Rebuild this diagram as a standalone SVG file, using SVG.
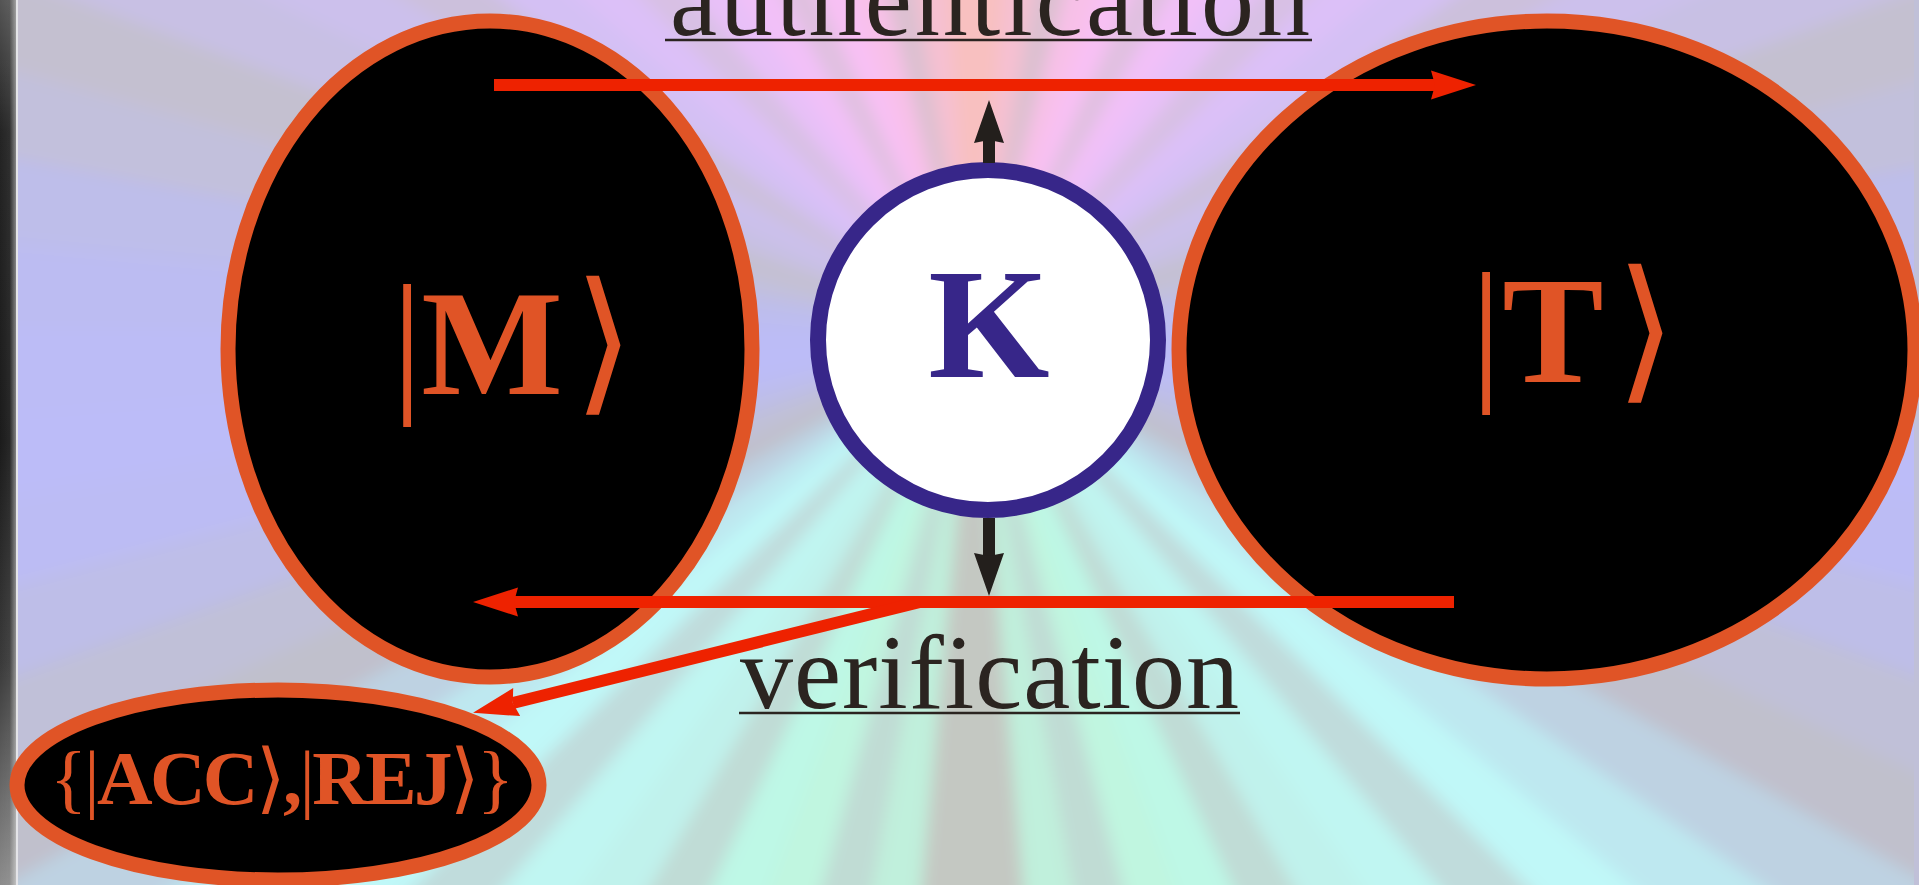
<svg xmlns="http://www.w3.org/2000/svg" xmlns:xlink="http://www.w3.org/1999/xlink" width="1919" height="885" viewBox="0 0 1919 885">
  <style>
    .state { fill: #000; stroke: #e05426; stroke-width: 15; }
    .key { fill: #fff; stroke: #372689; stroke-width: 16; }
    .lbl { font-family: "Liberation Serif", "DejaVu Serif", "DejaVu Sans", serif; font-weight: bold; fill: #e05426; }
    .thin { font-weight: normal; }
    .cap { font-family: "Liberation Serif", "DejaVu Serif", serif; font-size: 106px; fill: #2b2420; }
    .uline { stroke: #2b2420; stroke-width: 2.5; }
    .red { stroke: #ee2200; stroke-width: 12; fill: none; }
    .blk { stroke: #231f1c; stroke-width: 12; fill: none; }
  </style>
  <defs>
    <!-- one 5.4 degree slice of the ray background -->
    <path id="w" d="M0 0 L-4 -2300 L217 -2290 Z"/>
    <filter id="soft" filterUnits="userSpaceOnUse" x="-990" y="-350" width="1930" height="900">
      <feGaussianBlur stdDeviation="8"/>
    </filter>
    <linearGradient id="stripV" x1="0" y1="0" x2="0" y2="1">
      <stop offset="0" stop-color="#555"/>
      <stop offset="0.15" stop-color="#242424"/>
      <stop offset="0.5" stop-color="#1b1b1b"/>
      <stop offset="0.75" stop-color="#3a3a3a"/>
      <stop offset="1" stop-color="#8c8c8c"/>
    </linearGradient>
    <linearGradient id="stripH" x1="0" y1="0" x2="1" y2="0">
      <stop offset="0" stop-color="#fff" stop-opacity="0"/>
      <stop offset="0.6" stop-color="#fff" stop-opacity="0.05"/>
      <stop offset="1" stop-color="#fff" stop-opacity="0.45"/>
    </linearGradient>
    <marker id="ah-red" markerUnits="userSpaceOnUse" markerWidth="45" markerHeight="29" refX="4" refY="14.5" orient="auto" overflow="visible">
      <path d="M0 0 L45 14.5 L0 29 L4 14.5 Z" fill="#ee2200"/>
    </marker>
    <marker id="ah-blk" markerUnits="userSpaceOnUse" markerWidth="43" markerHeight="30" refX="3" refY="15" orient="auto" overflow="visible">
      <path d="M0 0 L43 15 L0 30 L3 15 Z" fill="#231f1c"/>
    </marker>
  </defs>

  <!-- ray background -->
  <rect width="1919" height="885" fill="#c0c0d8"/>
  <g id="rays" transform="translate(974 335)" filter="url(#soft)">
    <use xlink:href="#w" transform="rotate(0)" fill="#f8c0c0"/>
    <use xlink:href="#w" transform="rotate(5)" fill="#f6c0d2"/>
    <use xlink:href="#w" transform="rotate(10)" fill="#dcc0d0"/>
    <use xlink:href="#w" transform="rotate(15)" fill="#f8c0e8"/>
    <use xlink:href="#w" transform="rotate(20)" fill="#f8c0f4"/>
    <use xlink:href="#w" transform="rotate(25)" fill="#e0c0e0"/>
    <use xlink:href="#w" transform="rotate(30)" fill="#f2c0f8"/>
    <use xlink:href="#w" transform="rotate(35)" fill="#e8c0f8"/>
    <use xlink:href="#w" transform="rotate(40)" fill="#d8c0e4"/>
    <use xlink:href="#w" transform="rotate(45)" fill="#dcc0f8"/>
    <use xlink:href="#w" transform="rotate(50)" fill="#d4c0f4"/>
    <use xlink:href="#w" transform="rotate(55)" fill="#ccc0dc"/>
    <use xlink:href="#w" transform="rotate(60)" fill="#ccc0ec"/>
    <use xlink:href="#w" transform="rotate(65)" fill="#c8c0e4"/>
    <use xlink:href="#w" transform="rotate(70)" fill="#c4c0d0"/>
    <use xlink:href="#w" transform="rotate(75)" fill="#c2c0dc"/>
    <use xlink:href="#w" transform="rotate(80)" fill="#bebeea"/>
    <use xlink:href="#w" transform="rotate(85)" fill="#bcbcf2"/>
    <use xlink:href="#w" transform="rotate(90)" fill="#bcbcf6"/>
    <use xlink:href="#w" transform="rotate(95)" fill="#bcbcf8"/>
    <use xlink:href="#w" transform="rotate(100)" fill="#bcbcf4"/>
    <use xlink:href="#w" transform="rotate(105)" fill="#bebee8"/>
    <use xlink:href="#w" transform="rotate(110)" fill="#c0c0d8"/>
    <use xlink:href="#w" transform="rotate(115)" fill="#c0c0cc"/>
    <use xlink:href="#w" transform="rotate(120)" fill="#bed2e2"/>
    <use xlink:href="#w" transform="rotate(125)" fill="#bee8f0"/>
    <use xlink:href="#w" transform="rotate(130)" fill="#c0f8f8"/>
    <use xlink:href="#w" transform="rotate(135)" fill="#c0dcdc"/>
    <use xlink:href="#w" transform="rotate(140)" fill="#c0f6f2"/>
    <use xlink:href="#w" transform="rotate(145)" fill="#c0f2ec"/>
    <use xlink:href="#w" transform="rotate(150)" fill="#c0dcd6"/>
    <use xlink:href="#w" transform="rotate(155)" fill="#bef8e6"/>
    <use xlink:href="#w" transform="rotate(160)" fill="#c0f6e0"/>
    <use xlink:href="#w" transform="rotate(165)" fill="#c0dcd4"/>
    <use xlink:href="#w" transform="rotate(170)" fill="#c0f0dc"/>
    <use xlink:href="#w" transform="rotate(175)" fill="#c4c8c2"/>
    <use xlink:href="#w" transform="rotate(-5)" fill="#f8c0c0"/>
    <use xlink:href="#w" transform="rotate(-10)" fill="#f6c0d2"/>
    <use xlink:href="#w" transform="rotate(-15)" fill="#dcc0d0"/>
    <use xlink:href="#w" transform="rotate(-20)" fill="#f8c0e8"/>
    <use xlink:href="#w" transform="rotate(-25)" fill="#f8c0f4"/>
    <use xlink:href="#w" transform="rotate(-30)" fill="#e0c0e0"/>
    <use xlink:href="#w" transform="rotate(-35)" fill="#f2c0f8"/>
    <use xlink:href="#w" transform="rotate(-40)" fill="#e8c0f8"/>
    <use xlink:href="#w" transform="rotate(-45)" fill="#d8c0e4"/>
    <use xlink:href="#w" transform="rotate(-50)" fill="#dcc0f8"/>
    <use xlink:href="#w" transform="rotate(-55)" fill="#d4c0f4"/>
    <use xlink:href="#w" transform="rotate(-60)" fill="#ccc0dc"/>
    <use xlink:href="#w" transform="rotate(-65)" fill="#ccc0ec"/>
    <use xlink:href="#w" transform="rotate(-70)" fill="#c8c0e4"/>
    <use xlink:href="#w" transform="rotate(-75)" fill="#c4c0d0"/>
    <use xlink:href="#w" transform="rotate(-80)" fill="#c2c0dc"/>
    <use xlink:href="#w" transform="rotate(-85)" fill="#bebeea"/>
    <use xlink:href="#w" transform="rotate(-90)" fill="#bcbcf2"/>
    <use xlink:href="#w" transform="rotate(-95)" fill="#bcbcf6"/>
    <use xlink:href="#w" transform="rotate(-100)" fill="#bcbcf8"/>
    <use xlink:href="#w" transform="rotate(-105)" fill="#bcbcf4"/>
    <use xlink:href="#w" transform="rotate(-110)" fill="#bebee8"/>
    <use xlink:href="#w" transform="rotate(-115)" fill="#c0c0d8"/>
    <use xlink:href="#w" transform="rotate(-120)" fill="#c0c0cc"/>
    <use xlink:href="#w" transform="rotate(-125)" fill="#bed2e2"/>
    <use xlink:href="#w" transform="rotate(-130)" fill="#bee8f0"/>
    <use xlink:href="#w" transform="rotate(-135)" fill="#c0f8f8"/>
    <use xlink:href="#w" transform="rotate(-140)" fill="#c0dcdc"/>
    <use xlink:href="#w" transform="rotate(-145)" fill="#c0f6f2"/>
    <use xlink:href="#w" transform="rotate(-150)" fill="#c0f2ec"/>
    <use xlink:href="#w" transform="rotate(-155)" fill="#c0dcd6"/>
    <use xlink:href="#w" transform="rotate(-160)" fill="#bef8e6"/>
    <use xlink:href="#w" transform="rotate(-165)" fill="#c0f6e0"/>
    <use xlink:href="#w" transform="rotate(-170)" fill="#c0dcd4"/>
    <use xlink:href="#w" transform="rotate(-175)" fill="#c0f0dc"/>
    <use xlink:href="#w" transform="rotate(-180)" fill="#c4c8c2"/>
  </g>

  <!-- dark frame strip on the left edge -->
  <rect x="0" y="0" width="16" height="885" fill="url(#stripV)"/>
  <rect x="0" y="0" width="16" height="885" fill="url(#stripH)"/>
  <rect x="16" y="0" width="2" height="885" fill="#e4e4e8"/>

  <!-- states -->
  <g id="node-M">
    <ellipse class="state" cx="490" cy="349" rx="262" ry="328"/>
    <text class="lbl" y="394" text-anchor="middle"><tspan class="thin" x="407" font-size="156">|</tspan><tspan x="492" font-size="150">M</tspan><tspan class="thin" x="604" font-size="156">⟩</tspan></text>
  </g>
  <g id="node-T">
    <ellipse class="state" cx="1547" cy="350" rx="368" ry="329"/>
    <text class="lbl" y="382" text-anchor="middle"><tspan class="thin" x="1486" font-size="156">|</tspan><tspan x="1553" font-size="152">T</tspan><tspan class="thin" x="1646" font-size="156">⟩</tspan></text>
  </g>
  <g id="node-K">
    <circle class="key" cx="988" cy="340" r="170"/>
    <text x="989" y="377" text-anchor="middle" font-family="Liberation Serif, serif" font-weight="bold" font-size="156" fill="#372689">K</text>
  </g>
  <g id="node-result">
    <ellipse class="state" cx="278" cy="785" rx="261" ry="95"/>
    <text class="lbl" x="50" y="804" font-size="77" textLength="464" lengthAdjust="spacing"><tspan class="thin">{|</tspan>ACC<tspan class="thin">⟩</tspan>,<tspan class="thin">|</tspan>REJ<tspan class="thin">⟩}</tspan></text>
  </g>

  <!-- connectors -->
  <g id="connectors">
    <line class="red" x1="494" y1="85" x2="1435" y2="85" marker-end="url(#ah-red)"/>
    <line class="red" x1="1454" y1="602" x2="514" y2="602" marker-end="url(#ah-red)"/>
    <line class="red" x1="920" y1="602" x2="512.8" y2="703" marker-end="url(#ah-red)"/>
    <line class="blk" x1="989" y1="163" x2="989" y2="140" marker-end="url(#ah-blk)"/>
    <line class="blk" x1="989" y1="518" x2="989" y2="556" marker-end="url(#ah-blk)"/>
    <text class="cap" x="670" y="35" textLength="640" lengthAdjust="spacing">authentication</text>
    <line class="uline" x1="665" y1="40" x2="1312" y2="40"/>
    <text class="cap" x="740" y="708" textLength="499" lengthAdjust="spacing">verification</text>
    <line class="uline" x1="739" y1="713" x2="1240" y2="713"/>
  </g>
</svg>
